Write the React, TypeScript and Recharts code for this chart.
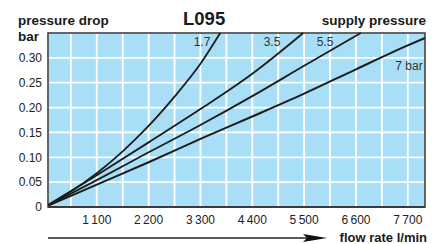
import React from 'react';
import { LineChart, Line, XAxis, YAxis, CartesianGrid, ReferenceArea } from 'recharts';

// flow rate (l/min) and pressure drop (bar)
const flow17 = [0, 550, 1100, 1650, 2200, 2750, 3300, 3720];
const drop17 = [0, 0.031, 0.068, 0.112, 0.163, 0.222, 0.288, 0.35];

const flow35 = [0, 1100, 2200, 3300, 4400, 5480];
const drop35 = [0, 0.064, 0.13, 0.197, 0.268, 0.35];

const flow55 = [0, 1100, 2200, 3300, 4400, 5500, 6700];
const drop55 = [0, 0.054, 0.11, 0.165, 0.223, 0.284, 0.35];

const flow7 = [0, 1100, 2200, 3300, 4400, 5500, 6600, 7700, 8065];
const drop7 = [0, 0.045, 0.09, 0.137, 0.182, 0.228, 0.277, 0.325, 0.34];

const flowTicks = [550, 1100, 1650, 2200, 2750, 3300, 3850, 4400, 4950, 5500, 6050, 6600, 7150, 7700];
const dropTicks = [0, 0.05, 0.1, 0.15, 0.2, 0.25, 0.3];

const toPoints = (flows: number[], drops: number[]) =>
  flows.map((q, i) => ({ q, p: drops[i] }));

const font = '"Liberation Sans", Arial, Helvetica, sans-serif';
const ink = '#1c1c1c';

const formatFlow = (v: number) => {
  if (v % 1100 !== 0) return '';
  return `${Math.floor(v / 1000)}\u2009${String(v % 1000).padStart(3, '0')}`;
};

const App: React.FC = () => {
  return (
    <div style={{ position: 'absolute', left: 0, top: 0, width: 439, height: 244, background: '#fff' }}>
      <LineChart width={439} height={244} margin={{ top: 33, right: 14, bottom: 0, left: 0 }}>
        <CartesianGrid fill="#a9dff6" fillOpacity={1} stroke="#ffffff" strokeWidth={1.8} />
        <XAxis
          type="number"
          dataKey="q"
          domain={[65, 8065]}
          allowDataOverflow
          ticks={flowTicks}
          interval={0}
          tickFormatter={formatFlow}
          tickLine={false}
          axisLine={{ stroke: '#3a3a3a', strokeWidth: 2 }}
          height={37}
          tick={{ fontSize: 12, fill: '#222', fontFamily: font }}
        />
        <YAxis
          type="number"
          dataKey="p"
          domain={[0, 0.35]}
          ticks={dropTicks}
          interval={0}
          tickFormatter={(v: number) => (v === 0 ? '0' : v.toFixed(2))}
          tickLine={false}
          tickSize={4}
          tickMargin={2}
          axisLine={false}
          width={48}
          tick={{ fontSize: 12, fill: '#222', fontFamily: font }}
        />
        <Line data={toPoints(flow17, drop17)} dataKey="p" type="monotone" stroke={ink} strokeWidth={1.8} dot={false} isAnimationActive={false} />
        <Line data={toPoints(flow35, drop35)} dataKey="p" type="monotone" stroke={ink} strokeWidth={1.8} dot={false} isAnimationActive={false} />
        <Line data={toPoints(flow55, drop55)} dataKey="p" type="monotone" stroke={ink} strokeWidth={1.8} dot={false} isAnimationActive={false} />
        <Line data={toPoints(flow7, drop7)} dataKey="p" type="monotone" stroke={ink} strokeWidth={2} dot={false} isAnimationActive={false} />
        <ReferenceArea x1={65} x2={8065} y1={0} y2={0.35} fill="none" stroke="#333" strokeWidth={1.5} />
      </LineChart>

      {/* titles, curve labels and the flow arrow */}
      <svg width={439} height={244} style={{ position: 'absolute', left: 0, top: 0, pointerEvents: 'none' }}>
        <g fontFamily={font} fill="#1a1a1a">
          <text x={18} y={25} fontSize={13.5} fontWeight="bold">pressure drop</text>
          <text x={18} y={41} fontSize={13.5} fontWeight="bold">bar</text>
          <text x={183} y={25} fontSize={18.5} fontWeight="bold">L095</text>
          <text x={426} y={25} fontSize={13.5} fontWeight="bold" textAnchor="end">supply pressure</text>
          <text x={427} y={241.5} fontSize={13} fontWeight="bold" textAnchor="end">flow rate l/min</text>
        </g>
        <g fontFamily={font} fill="#333" fontSize={12}>
          <text x={202} y={46} textAnchor="middle">1.7</text>
          <text x={272} y={46} textAnchor="middle">3.5</text>
          <text x={325} y={46} textAnchor="middle">5.5</text>
          <text x={409} y={70} textAnchor="middle">7 bar</text>
        </g>
        <line x1={48} y1={238} x2={310} y2={238} stroke="#222" strokeWidth={1.5} />
        <polygon points="303,234 327,238 303,242 307,238" fill="#111" />
      </svg>
    </div>
  );
};

export default App;
